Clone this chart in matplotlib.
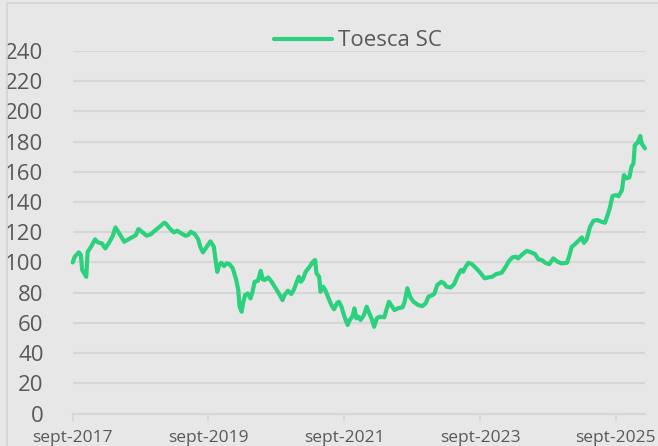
import matplotlib
matplotlib.use("Agg")
import matplotlib.pyplot as plt
import matplotlib.dates as mdates
from matplotlib.patches import Rectangle
import pandas as pd
import numpy as np

plt.rcParams['font.family'] = ['Open Sans', 'DejaVu Sans']

series_name = "Toesca SC"

# time as decimal years
t_years = [
    2017.67, 2017.70, 2017.76, 2017.79, 2017.81, 2017.84, 2017.87, 2017.89, 2017.94, 2018.00,
    2018.04, 2018.10, 2018.15, 2018.20, 2018.26, 2018.30, 2018.35, 2018.43, 2018.49, 2018.56,
    2018.60, 2018.64, 2018.69, 2018.76, 2018.82, 2018.89, 2018.95, 2019.02, 2019.04, 2019.10,
    2019.16, 2019.21, 2019.27, 2019.33, 2019.37, 2019.41, 2019.47, 2019.52, 2019.55, 2019.59,
    2019.64, 2019.70, 2019.75, 2019.78, 2019.80, 2019.83, 2019.86, 2019.90, 2019.94, 2019.98,
    2020.03, 2020.08, 2020.11, 2020.13, 2020.16, 2020.18, 2020.21, 2020.25, 2020.29, 2020.32,
    2020.35, 2020.40, 2020.44, 2020.47, 2020.50, 2020.55, 2020.60, 2020.67, 2020.72, 2020.76,
    2020.79, 2020.84, 2020.89, 2020.93, 2020.97, 2021.00, 2021.03, 2021.06, 2021.10, 2021.16,
    2021.21, 2021.24, 2021.26, 2021.30, 2021.32, 2021.36, 2021.39, 2021.43, 2021.48, 2021.52,
    2021.56, 2021.59, 2021.63, 2021.65, 2021.69, 2021.72, 2021.75, 2021.79, 2021.82, 2021.85,
    2021.88, 2021.91, 2021.96, 2022.00, 2022.05, 2022.08, 2022.11, 2022.15, 2022.19, 2022.26,
    2022.29, 2022.33, 2022.37, 2022.41, 2022.46, 2022.53, 2022.56, 2022.60, 2022.64, 2022.69,
    2022.76, 2022.82, 2022.87, 2022.91, 2022.97, 2023.00, 2023.04, 2023.10, 2023.14, 2023.18,
    2023.24, 2023.29, 2023.34, 2023.39, 2023.42, 2023.46, 2023.50, 2023.55, 2023.59, 2023.65,
    2023.69, 2023.74, 2023.79, 2023.85, 2023.91, 2023.99, 2024.05, 2024.10, 2024.15, 2024.20,
    2024.23, 2024.30, 2024.36, 2024.40, 2024.48, 2024.53, 2024.58, 2024.63, 2024.69, 2024.75,
    2024.81, 2024.87, 2024.95, 2024.98, 2025.02, 2025.07, 2025.12, 2025.17, 2025.20, 2025.24,
    2025.29, 2025.34, 2025.40, 2025.46, 2025.51, 2025.54, 2025.58, 2025.62, 2025.67, 2025.71,
    2025.76, 2025.79, 2025.83, 2025.87, 2025.90, 2025.93, 2025.95, 2025.99, 2026.03, 2026.05,
    2026.10,
]

values = [
    100.0, 103.8, 106.7, 105.0, 95.0, 92.8, 90.5, 107.0, 110.4, 115.3,
    113.3, 112.6, 109.3, 112.6, 117.5, 123.2, 119.7, 113.7, 115.3, 117.0,
    118.1, 122.1, 120.3, 117.7, 118.6, 121.4, 123.6, 126.3, 125.9, 122.6,
    119.9, 121.0, 119.3, 117.7, 118.1, 120.3, 118.8, 115.3, 110.4, 106.7,
    110.0, 114.0, 110.4, 100.5, 93.8, 98.3, 99.8, 97.6, 99.4, 98.9,
    96.1, 88.4, 81.7, 70.7, 67.4, 72.9, 78.4, 79.5, 76.2, 80.6,
    87.2, 87.9, 94.5, 88.8, 88.4, 90.1, 87.2, 82.2, 78.4, 75.1,
    78.4, 81.3, 79.1, 82.2, 87.2, 90.5, 87.2, 88.8, 93.8, 97.2,
    100.5, 101.6, 92.8, 90.5, 80.6, 83.9, 81.7, 77.3, 71.8, 69.0,
    72.9, 74.0, 70.7, 67.4, 61.9, 58.6, 61.9, 64.1, 69.6, 63.0,
    64.1, 61.9, 65.2, 70.7, 65.2, 61.9, 57.4, 63.0, 64.1, 63.7,
    68.5, 74.0, 71.1, 68.5, 69.6, 70.3, 74.0, 82.9, 77.3, 74.0,
    71.8, 71.1, 72.9, 77.3, 78.4, 79.5, 85.0, 87.2, 86.2, 83.9,
    83.5, 85.7, 91.0, 95.0, 93.8, 97.2, 99.8, 98.9, 97.2, 94.5,
    92.3, 89.5, 90.1, 90.5, 92.3, 93.2, 97.2, 101.1, 103.4, 103.8,
    102.7, 105.6, 107.7, 107.1, 105.6, 102.0, 101.6, 99.8, 98.9, 102.7,
    100.5, 99.4, 99.8, 103.8, 110.4, 112.2, 114.4, 116.6, 113.0, 115.3,
    123.6, 127.6, 128.1, 126.9, 126.3, 130.2, 135.8, 143.9, 144.6, 143.9,
    147.9, 157.8, 155.7, 156.3, 163.3, 165.5, 177.7, 179.2, 183.7, 178.8,
    175.5,
]

y_ticks = [0, 20, 40, 60, 80, 100, 120, 140, 160, 180, 200, 220, 240]
x_tick_years = [2017, 2019, 2021, 2023, 2025]
x_tick_labels = ["sept-2017", "sept-2019", "sept-2021", "sept-2023", "sept-2025"]


def dec_to_date(y):
    yr = int(np.floor(y))
    start = pd.Timestamp(year=yr, month=1, day=1)
    end = pd.Timestamp(year=yr + 1, month=1, day=1)
    return start + (end - start) * (y - yr)


dates = [dec_to_date(y) for y in t_years]
# shift so the first point sits exactly on 1 Sept 2017
offset = pd.Timestamp("2017-09-01") - dates[0]
dates = [d + offset for d in dates]

W, H = 658, 446
fig = plt.figure(figsize=(W / 100, H / 100), dpi=100)
bg = "#e7e7e7"
fig.patch.set_facecolor(bg)
fig.patches.append(Rectangle((7 / W, -0.05), 1.1, 1 - 3 / H + 0.05,
                             transform=fig.transFigure, fill=False,
                             edgecolor="#d4d4d4", linewidth=1.2))

ax = fig.add_axes([72.7 / W, 1 - 413.5 / H, (645 - 72.7) / W, (413.5 - 51) / H])
ax.set_facecolor(bg)

line_color = "#2bd17c"
ln, = ax.plot(dates, values, color=line_color, linewidth=3.0,
              solid_joinstyle="round", solid_capstyle="round", label=series_name)

ax.set_ylim(0, 240)
ax.set_yticks(y_ticks)
ax.set_xlim(dates[0], dates[-1])
ax.set_xticks([pd.Timestamp(year=y, month=9, day=1) for y in x_tick_years])
ax.set_xticklabels(x_tick_labels)

grid_color = "#d6d6d6"
ax.grid(axis="y", color=grid_color, linewidth=1.5)
ax.set_axisbelow(True)
for s in ["left", "right", "top"]:
    ax.spines[s].set_visible(False)
ax.spines["bottom"].set_color(grid_color)
ax.spines["bottom"].set_linewidth(1.5)
ax.spines["bottom"].set_zorder(0.5)

txt = "#595959"
ax.tick_params(axis="y", length=0, pad=21, labelsize=16, labelcolor=txt)
ax.tick_params(axis="x", length=5, width=1.2, color=grid_color, direction="out",
               pad=7, labelsize=12.5, labelcolor=txt)
ax.set_clip_on(False)
ln.set_clip_on(False)

fig.legend(handles=[ln], labels=[series_name], loc="center",
           bbox_to_anchor=(358 / W, 1 - 41 / H), frameon=False,
           fontsize=16, labelcolor=txt, handlelength=2.6, handletextpad=0.25,
           borderpad=0)

fig.savefig("out.png", dpi=100, facecolor=bg)
